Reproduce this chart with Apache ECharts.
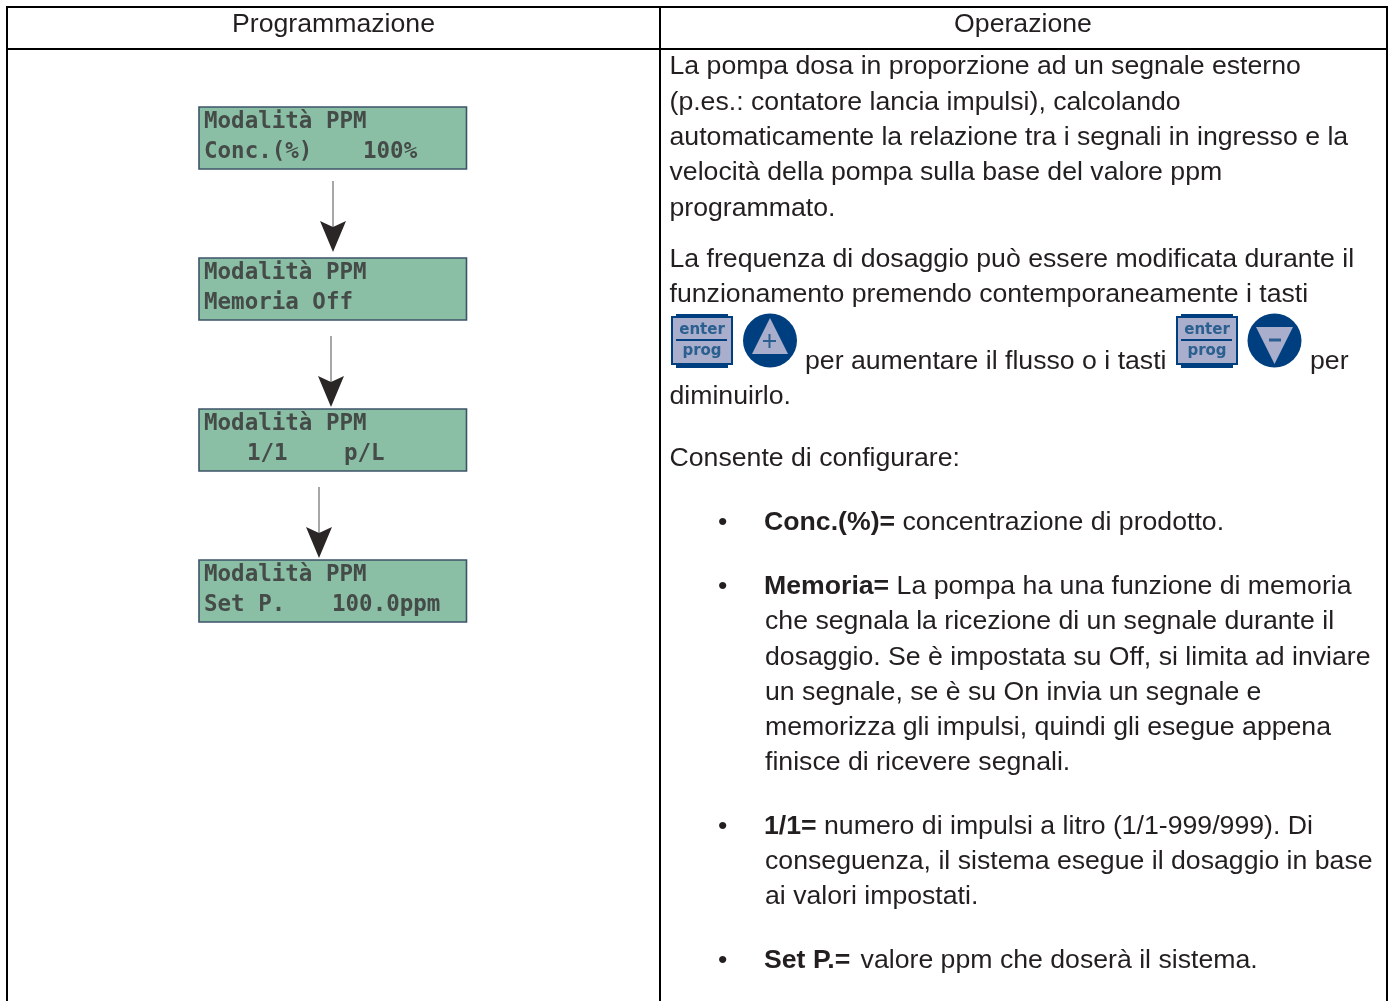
<!DOCTYPE html>
<html>
<head>
<meta charset="utf-8">
<title>Modalità PPM</title>
<script src="https://cdn.jsdelivr.net/npm/echarts@6/dist/echarts.min.js"></script>
<style>
  html, body { margin: 0; padding: 0; background: #fff; }
  #my_chart { width: 1391px; height: 1001px; }
</style>
</head>
<body>
<div id="my_chart"></div>
<script>
var headers = ['Programmazione', 'Operazione'];
var lcdTitle = 'Modalità PPM';
var lcdLeft = ['Conc.(%)', 'Memoria Off', '1/1', 'Set P.'];
var lcdRight = ['100%', '', 'p/L', '100.0ppm'];
var introLines = [
  'La pompa dosa in proporzione ad un segnale esterno',
  '(p.es.: contatore lancia impulsi), calcolando',
  'automaticamente la relazione tra i segnali in ingresso e la',
  'velocità della pompa sulla base del valore ppm',
  'programmato.'
];
var freqLines = [
  'La frequenza di dosaggio può essere modificata durante il',
  'funzionamento premendo contemporaneamente i tasti'
];
var keyTexts = ['per aumentare il flusso o i tasti', 'per', 'diminuirlo.'];
var configText = 'Consente di configurare:';
var bulletBold = ['Conc.(%)=', 'Memoria=', '1/1=', 'Set P.='];
var bulletLines = [
  [' concentrazione di prodotto.'],
  [
    ' La pompa ha una funzione di memoria',
    'che segnala la ricezione di un segnale durante il',
    'dosaggio. Se è impostata su Off, si limita ad inviare',
    'un segnale, se è su On invia un segnale e',
    'memorizza gli impulsi, quindi gli esegue appena',
    'finisce di ricevere segnali.'
  ],
  [
    ' numero di impulsi a litro (1/1-999/999). Di',
    'conseguenza, il sistema esegue il dosaggio in base',
    'ai valori impostati.'
  ],
  [' valore ppm che doserà il sistema.']
];

var FONT = '"Liberation Sans", Arial, sans-serif';
var SIZE = 26.67;
var INK = '#231f20';
var BLUE = '#003f7f';
var PALE = '#a8aecb';
var KEYTEXT = '#2a5f8f';
var graphic = [];

function line(x1, y1, x2, y2, color, width) {
  graphic.push({ type: 'line', shape: { x1: x1, y1: y1, x2: x2, y2: y2 }, style: { stroke: color, lineWidth: width } });
}
function text(str, x, y, opt) {
  opt = opt || {};
  graphic.push({
    type: 'text', x: x, y: y,
    style: {
      text: str, fill: opt.fill || INK,
      font: (opt.weight || 'normal') + ' ' + (opt.size || SIZE) + 'px ' + (opt.family || FONT),
      align: opt.align || 'left', verticalAlign: 'middle',
      rich: opt.rich
    }
  });
}
function poly(points, fill) {
  graphic.push({ type: 'polygon', shape: { points: points }, style: { fill: fill } });
}

// table grid
line(7, 7, 1388, 7, '#000', 2);
line(7, 49, 1388, 49, '#000', 2);
line(7, 6, 7, 1001, '#000', 2);
line(660, 6, 660, 1001, '#000', 2);
line(1387, 6, 1387, 1001, '#000', 2);
text(headers[0], 333.5, 25, { align: 'center' });
text(headers[1], 1023, 25, { align: 'center' });

// lcd screens
var lcdTop = [107, 258, 409, 560];
var lcdLeftX = [204, 204, 247, 204];
var lcdRightX = [363, 0, 344, 332];
var LCD = { family: '"DejaVu Sans Mono", monospace', weight: 'bold', size: 22.5, fill: '#454b48' };
lcdTop.forEach(function (t, i) {
  graphic.push({ type: 'rect', shape: { x: 199, y: t, width: 267.5, height: 62 },
    style: { fill: '#8abfa5', stroke: '#3c5468', lineWidth: 1.6 } });
  text(lcdTitle, 204, t + 15, LCD);
  text(lcdLeft[i], lcdLeftX[i], t + 45, LCD);
  if (lcdRight[i]) text(lcdRight[i], lcdRightX[i], t + 45, LCD);
});

// arrows between screens
[[333, 181, 252], [331, 336, 407], [319, 487, 558]].forEach(function (a) {
  line(a[0], a[1], a[0], a[2] - 20, '#8a8a8a', 1.5);
  poly([[a[0] - 13, a[2] - 31], [a[0], a[2] - 25], [a[0] + 13, a[2] - 31], [a[0], a[2]]], '#2b2626');
});

// enter/prog key icons
function enterKey(dx) {
  graphic.push({ type: 'rect', shape: { x: 676 + dx, y: 314, width: 52, height: 54 }, style: { fill: BLUE } });
  graphic.push({ type: 'rect', shape: { x: 671 + dx, y: 316, width: 62, height: 49 }, style: { fill: BLUE } });
  graphic.push({ type: 'rect', shape: { x: 673 + dx, y: 318, width: 58, height: 45 }, style: { fill: PALE } });
  line(676 + dx, 340, 727 + dx, 340, BLUE, 2);
  text('enter', 702 + dx, 330, { align: 'center', weight: 'bold', size: 15, family: '"DejaVu Sans", sans-serif', fill: KEYTEXT });
  text('prog', 702 + dx, 351, { align: 'center', weight: 'bold', size: 15, family: '"DejaVu Sans", sans-serif', fill: KEYTEXT });
}
enterKey(0);
enterKey(505);
graphic.push({ type: 'circle', shape: { cx: 770, cy: 340.5, r: 27 }, style: { fill: BLUE } });
poly([[770, 318], [788, 354], [752, 354]], PALE);
line(763, 341, 776, 341, KEYTEXT, 2);
line(769.5, 334, 769.5, 348, KEYTEXT, 2);
graphic.push({ type: 'circle', shape: { cx: 1274.5, cy: 340.5, r: 27 }, style: { fill: BLUE } });
poly([[1256, 327], [1293, 327], [1274.5, 364]], PALE);
line(1269, 340, 1281, 340, KEYTEXT, 3);

// right column text
var introY = [67, 103, 138, 173, 209];
introLines.forEach(function (s, i) { text(s, 669.5, introY[i]); });
var freqY = [260, 295];
freqLines.forEach(function (s, i) { text(s, 669.5, freqY[i]); });
text(keyTexts[0], 805, 362);
text(keyTexts[1], 1310, 362);
text(keyTexts[2], 669.5, 397);
text(configText, 669.5, 459);

var bulletY = [
  [523],
  [587, 622, 658, 693, 728, 763],
  [827, 862, 897],
  [961]
];
var boldGap = [0, 0, 0, 3];
bulletBold.forEach(function (bold, i) {
  text('•', 718, bulletY[i][0]);
  bulletLines[i].forEach(function (s, j) {
    if (j === 0) {
      text('{b|' + bold + '}{r|' + s + '}', 764, bulletY[i][j], {
        rich: {
          b: { font: 'bold ' + SIZE + 'px ' + FONT, fill: INK, padding: [0, boldGap[i], 0, 0] },
          r: { font: 'normal ' + SIZE + 'px ' + FONT, fill: INK }
        }
      });
    } else {
      text(s, 765, bulletY[i][j]);
    }
  });
});

var chart = echarts.init(document.getElementById('my_chart'));
chart.setOption({
  animation: false,
  backgroundColor: '#fff',
  graphic: { elements: graphic }
});
</script>
</body>
</html>
